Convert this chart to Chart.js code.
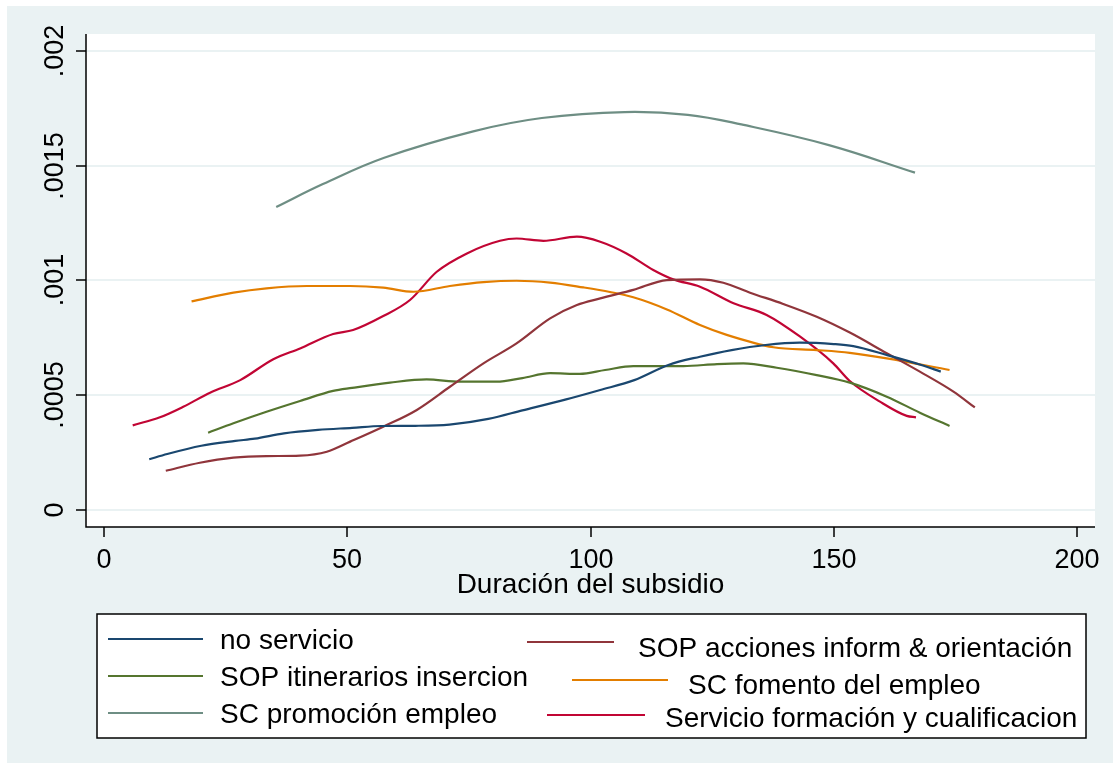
<!DOCTYPE html>
<html>
<head>
<meta charset="utf-8">
<script src="https://cdn.jsdelivr.net/npm/chart.js@4.4.1/dist/chart.umd.min.js"></script>
<style>
  html, body { margin: 0; padding: 0; background: #fff; }
  #wrap { width: 1120px; height: 769px; }
</style>
</head>
<body>
<div id="wrap"><canvas id="kdens" width="1120" height="769"></canvas></div>
<script>
// Kernel density of subsidy duration, one curve per service
const noServicioX = [9.3, 13, 20, 27, 31, 37, 44, 51, 57, 64, 71, 79, 86, 95, 102, 109, 116, 122.5, 129, 136, 143, 150, 154, 161, 168, 172];
const noServicioY = [.000221, .000244, .000280, .000301, .000311, .000334, .000349, .000358, .000366, .000367, .000372, .000397, .000434, .000482, .000523, .000566, .000632, .000668, .000697, .000719, .000729, .000723, .000714, .000675, .000632, .000603];

const sopAccionesX = [12.7, 19.7, 26.6, 33.4, 40.3, 45.8, 50.6, 57.4, 64.3, 71.1, 78, 84.8, 91.7, 97.2, 102, 108.8, 115.7, 122.5, 127.3, 132.8, 139.6, 146.5, 153.3, 160.9, 167.7, 174.6, 179];
const sopAccionesY = [.000171, .000206, .000228, .000235, .000237, .000254, .000298, .000363, .000436, .000537, .000639, .000726, .000835, .000893, .000922, .000959, .001002, .001005, .000990, .000947, .000898, .000842, .000773, .000683, .000603, .000516, .000447];

const sopItinerariosX = [21.4, 26.6, 33.4, 40.3, 47.1, 51, 58.8, 66.3, 73.2, 80.7, 86, 91.7, 97.8, 103, 108.8, 119.1, 126, 131.4, 138.3, 146.5, 153.3, 160.9, 167.7, 173.8];
const sopItinerariosY = [.000337, .000378, .000428, .000475, .000519, .000532, .000555, .000569, .000559, .000559, .000575, .000596, .000593, .000610, .000627, .000627, .000636, .000639, .000620, .000588, .000555, .000494, .000424, .000366];

const scFomentoX = [18, 26.6, 33.4, 41.7, 50.6, 57.4, 63.6, 71.1, 78, 84.8, 91.7, 98.5, 104, 108.8, 115.7, 122.5, 128, 137.6, 146.5, 153.3, 160.9, 173.8];
const scFomentoY = [.000909, .000947, .000966, .000976, .000976, .000969, .000951, .000976, .000993, .000999, .000991, .000970, .000950, .000927, .000874, .000806, .000763, .000709, .000697, .000685, .000661, .000610];

const scPromocionX = [35.4, 45, 57.6, 75.9, 90, 107, 120, 131, 149, 166.7];
const scPromocionY = [.00132, .00142, .001535, .00165, .001708, .001734, .001722, .00168, .00159, .00147];

const formacionX = [5.9, 11.5, 16.3, 21.8, 28, 34.8, 40.3, 47.1, 51.2, 57.4, 62.9, 68.4, 74.6, 81.4, 84.8, 90.3, 97.2, 102, 107.4, 112.9, 117, 122.5, 129.4, 136.2, 143.1, 149.9, 153.3, 159.5, 165, 166.9];
const formacionY = [.000369, .000404, .000450, .000511, .000566, .000657, .000704, .000767, .000784, .000845, .000915, .001038, .001118, .001173, .001183, .001173, .001191, .001169, .001118, .001046, .001005, .000973, .000901, .000850, .000755, .000639, .000562, .000472, .000410, .000404];

const seriesNames = [
  'no servicio',
  'SOP acciones inform & orientación',
  'SOP itinerarios insercion',
  'SC fomento del empleo',
  'SC promoción empleo',
  'Servicio formación y cualificacion'
];
const seriesColors = ['#1a476f', '#90353b', '#55752f', '#e37e00', '#6e8e84', '#c10534'];

const xTicks = [0, 50, 100, 150, 200];
const yTicks = [0, .0005, .001, .0015, .002];
const yTickLabels = ['0', '.0005', '.001', '.0015', '.002'];
const xTitle = 'Duración del subsidio';

const FONT = '"Liberation Sans", Arial, sans-serif';
const BG = '#eaf2f3';

// where each legend key sits: [lineStart, lineEnd, lineY, textX, textBaseline]
const legendSlots = [
  [108, 203, 639, 220, 649],
  [527, 614, 642, 638, 657],
  [108, 203, 676, 220, 686],
  [572, 668, 680, 688, 694],
  [108, 203, 713, 220, 723],
  [547, 645, 715, 665, 727]
];

function toPoints(xs, ys) {
  return xs.map((x, i) => ({ x, y: ys[i] }));
}

const seriesData = [
  toPoints(noServicioX, noServicioY),
  toPoints(sopAccionesX, sopAccionesY),
  toPoints(sopItinerariosX, sopItinerariosY),
  toPoints(scFomentoX, scFomentoY),
  toPoints(scPromocionX, scPromocionY),
  toPoints(formacionX, formacionY)
];

const datasets = seriesData.map((pts, i) => ({
  label: seriesNames[i],
  data: pts,
  borderColor: seriesColors[i],
  backgroundColor: seriesColors[i],
  borderWidth: 2.2,
  pointRadius: 0,
  fill: false,
  // the long flat arc reads better with plain bezier smoothing
  cubicInterpolationMode: i === 4 ? 'default' : 'monotone',
  tension: 0.4
}));

const stataFrame = {
  id: 'stataFrame',
  beforeDraw(chart) {
    const { ctx, chartArea: a } = chart;
    ctx.save();
    ctx.fillStyle = '#fff';
    ctx.fillRect(0, 0, chart.width, chart.height);
    ctx.fillStyle = BG;
    ctx.fillRect(7, 6, chart.width - 14, chart.height - 12);
    ctx.fillStyle = '#fff';
    ctx.fillRect(a.left, a.top, a.right - a.left, a.bottom - a.top);
    ctx.restore();
  },
  beforeDatasetsDraw(chart) {
    const { ctx, chartArea: a, scales } = chart;
    ctx.save();
    ctx.strokeStyle = BG;
    ctx.lineWidth = 2;
    yTicks.forEach(v => {
      const y = Math.round(scales.y.getPixelForValue(v));
      ctx.beginPath();
      ctx.moveTo(a.left, y);
      ctx.lineTo(a.right, y);
      ctx.stroke();
    });
    ctx.restore();
  },
  afterDraw(chart) {
    const { ctx, chartArea: a, scales } = chart;
    ctx.save();
    ctx.strokeStyle = '#000';
    ctx.fillStyle = '#000';
    ctx.lineWidth = 1.5;

    // axis lines
    ctx.beginPath();
    ctx.moveTo(a.left, a.top);
    ctx.lineTo(a.left, a.bottom);
    ctx.lineTo(a.right, a.bottom);
    ctx.stroke();

    // y ticks and vertical labels
    ctx.font = '27px ' + FONT;
    ctx.textAlign = 'center';
    ctx.textBaseline = 'alphabetic';
    yTicks.forEach((v, i) => {
      const y = Math.round(scales.y.getPixelForValue(v));
      ctx.beginPath();
      ctx.moveTo(a.left - 10, y);
      ctx.lineTo(a.left, y);
      ctx.stroke();
      ctx.save();
      ctx.translate(a.left - 23, y);
      ctx.rotate(-Math.PI / 2);
      ctx.fillText(yTickLabels[i], 0, 0);
      ctx.restore();
    });

    // x ticks and labels
    xTicks.forEach(v => {
      const x = Math.round(scales.x.getPixelForValue(v));
      ctx.beginPath();
      ctx.moveTo(x, a.bottom);
      ctx.lineTo(x, a.bottom + 10);
      ctx.stroke();
      ctx.fillText(String(v), x, a.bottom + 41);
    });

    ctx.font = '28px ' + FONT;
    ctx.fillText(xTitle, (a.left + a.right) / 2, a.bottom + 66);

    // legend box
    ctx.fillStyle = '#fff';
    ctx.fillRect(97, 614, 989, 124);
    ctx.strokeStyle = '#000';
    ctx.lineWidth = 1.5;
    ctx.strokeRect(97, 614, 989, 124);

    ctx.textAlign = 'left';
    chart.data.datasets.forEach((ds, i) => {
      const [x0, x1, ly, tx, ty] = legendSlots[i];
      ctx.strokeStyle = ds.borderColor;
      ctx.lineWidth = 2.2;
      ctx.beginPath();
      ctx.moveTo(x0, ly);
      ctx.lineTo(x1, ly);
      ctx.stroke();
      ctx.fillStyle = '#000';
      ctx.fillText(ds.label, tx, ty);
    });
    ctx.restore();
  }
};

new Chart(document.getElementById('kdens').getContext('2d'), {
  type: 'line',
  data: { datasets },
  options: {
    responsive: false,
    animation: false,
    layout: { padding: { left: 86, top: 34, right: 25, bottom: 242 } },
    plugins: {
      legend: { display: false },
      tooltip: { enabled: false }
    },
    scales: {
      x: { type: 'linear', min: -3.7, max: 203.7, display: false },
      y: { type: 'linear', min: -0.000074, max: 0.002074, display: false }
    }
  },
  plugins: [stataFrame]
});
</script>
</body>
</html>
